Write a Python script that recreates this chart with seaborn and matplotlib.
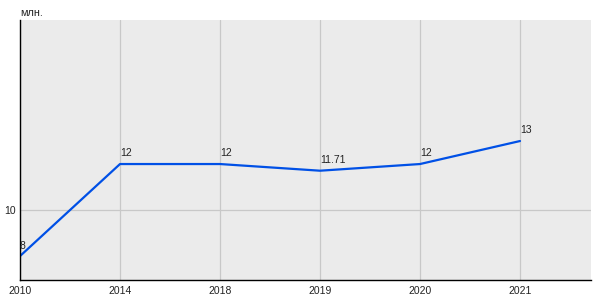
import matplotlib
matplotlib.use("Agg")
import matplotlib.pyplot as plt
import seaborn as sns
import numpy as np
import pandas as pd

years = ["2010", "2014", "2018", "2019", "2020", "2021"]
values = [8.0, 12.0, 12.0, 11.71, 12.0, 13.0]
labels = ["8", "12", "12", "11.71", "12", "13"]
unit = "млн."

sns.set_theme(style="white")
plt.rcParams["font.family"] = ["Liberation Sans", "DejaVu Sans"]

df = pd.DataFrame({"pos": np.arange(len(years)), "value": values})

fig = plt.figure(figsize=(6, 3), dpi=100)
ax = fig.add_axes([20/600, 20/300, 571/600, 260/300])
ax.set_facecolor("#EBEBEB")

sns.lineplot(data=df, x="pos", y="value", ax=ax, color="#0050E6", linewidth=1.6)

ax.set_xlim(0, 5.71)
ax.set_ylim(6.96, 18.26)
ax.set_xticks(df["pos"])
ax.set_xticklabels(years)
ax.set_yticks([10])
ax.set_yticklabels(["10"])
ax.grid(True, color="#C8C8C8", linewidth=0.9)
ax.set_axisbelow(True)
ax.set_xlabel("")
ax.set_ylabel("")
for s in ["top", "right"]:
    ax.spines[s].set_visible(False)
for s in ["left", "bottom"]:
    ax.spines[s].set_color("black")
    ax.spines[s].set_linewidth(1.0)
ax.tick_params(axis="both", length=0, labelsize=7.5, colors="#222222", pad=4)
ax.tick_params(axis="y", pad=3)

for x, y, t in zip(df["pos"], values, labels):
    ax.annotate(t, (x, y), xytext=(0, 4), textcoords="offset points",
                ha="left", va="bottom", fontsize=7.5, color="#222222")

fig.text(20/600, 1 - 13/300, unit, ha="left", va="center", fontsize=7.8, color="#222222")

fig.savefig("out.png", dpi=100)
